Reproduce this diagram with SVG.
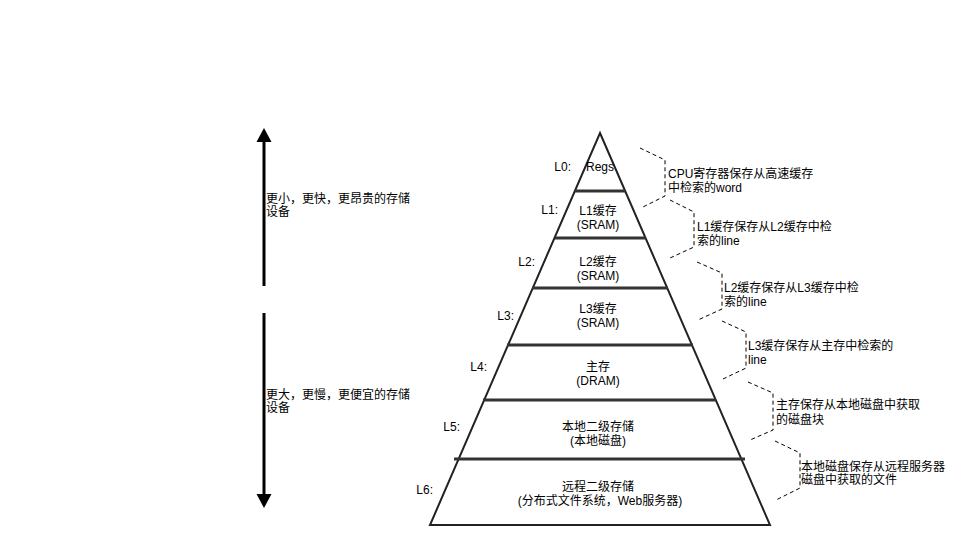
<svg xmlns="http://www.w3.org/2000/svg" width="972" height="545" viewBox="0 0 972 545">
  <style>
    text { font-family: "Liberation Sans", "Noto Sans CJK SC", sans-serif; font-size: 12px; fill: #000; }
    .mid { text-anchor: middle; }
    .end { text-anchor: end; }
    .edge { fill: none; stroke: #222; stroke-width: 2; }
    .tier { stroke: #333; stroke-width: 3; }
    .brace { fill: none; stroke: #000; stroke-width: 1; stroke-dasharray: 4 3; }
    .axis { stroke: #000; stroke-width: 3; }
  </style>
  <defs>
    <marker id="head" viewBox="0 0 10 10" refX="5" refY="2" markerWidth="5" markerHeight="5" orient="auto-start-reverse" markerUnits="strokeWidth">
      <path d="M0,10 L5,0 L10,10 Z" fill="#000"/>
    </marker>
  </defs>
  <rect width="972" height="545" fill="#fff"/>

  <!-- axis arrows -->
  <g id="axis-up">
    <line class="axis" x1="264" y1="286" x2="264" y2="140"/>
    <path d="M256.5,142 L264,128 L271.5,142 Z" fill="#000"/>
    <text x="266" y="203">更小，更快，更昂贵的存储</text>
    <text x="266" y="216">设备</text>
  </g>
  <g id="axis-down">
    <line class="axis" x1="264" y1="313" x2="264" y2="496"/>
    <path d="M256.5,494 L264,508 L271.5,494 Z" fill="#000"/>
    <text x="266" y="399">更大，更慢，更便宜的存储</text>
    <text x="266" y="412">设备</text>
  </g>

  <!-- pyramid outline -->
  <g id="pyramid">
    <path class="edge" d="M600,133 L770,525 L430,525 Z"/>
  </g>

  <!-- tier dividers -->
  <g id="dividers">
    <line class="tier" x1="575" y1="191" x2="625" y2="191"/>
    <line class="tier" x1="555" y1="238" x2="646" y2="238"/>
    <line class="tier" x1="532" y1="288" x2="668" y2="288"/>
    <line class="tier" x1="507" y1="345" x2="693" y2="345"/>
    <line class="tier" x1="483" y1="400" x2="716" y2="400"/>
    <line class="tier" x1="454" y1="459" x2="745" y2="459"/>
  </g>

  <!-- levels -->
  <g id="L0">
    <text class="end" x="571" y="171">L0:</text>
    <text class="mid" x="600" y="171">Regs</text>
  </g>
  <g id="L1">
    <text class="end" x="558" y="214">L1:</text>
    <text class="mid" x="598" y="215">L1缓存</text>
    <text class="mid" x="598" y="229">(SRAM)</text>
  </g>
  <g id="L2">
    <text class="end" x="535" y="266">L2:</text>
    <text class="mid" x="598" y="266">L2缓存</text>
    <text class="mid" x="598" y="280">(SRAM)</text>
  </g>
  <g id="L3">
    <text class="end" x="514" y="320">L3:</text>
    <text class="mid" x="598" y="313">L3缓存</text>
    <text class="mid" x="598" y="327">(SRAM)</text>
  </g>
  <g id="L4">
    <text class="end" x="487" y="371">L4:</text>
    <text class="mid" x="598" y="371">主存</text>
    <text class="mid" x="598" y="385">(DRAM)</text>
  </g>
  <g id="L5">
    <text class="end" x="460" y="431">L5:</text>
    <text class="mid" x="598" y="431">本地二级存储</text>
    <text class="mid" x="598" y="445">(本地磁盘)</text>
  </g>
  <g id="L6">
    <text class="end" x="433" y="494">L6:</text>
    <text class="mid" x="598" y="491">远程二级存储</text>
    <text class="mid" x="600" y="505">(分布式文件系统，Web服务器)</text>
  </g>

  <!-- dashed braces -->
  <g id="connectors">
    <path class="brace" d="M640,148 L665,160 L665,196 L641,208"/>
    <path class="brace" d="M670,200 L694,212 L694,247 L670,258"/>
    <path class="brace" d="M697,262 L722,273 L722,309 L698,320"/>
    <path class="brace" d="M722,321 L746,332 L746,368 L723,379"/>
    <path class="brace" d="M748,382 L773,393 L773,430 L750,440"/>
    <path class="brace" d="M775,441 L800,453 L800,488 L776,500"/>
  </g>

  <!-- annotations -->
  <g id="note-L0">
    <text x="668" y="178">CPU寄存器保存从高速缓存</text>
    <text x="668" y="192">中检索的word</text>
  </g>
  <g id="note-L1">
    <text x="697" y="231">L1缓存保存从L2缓存中检</text>
    <text x="697" y="245">索的line</text>
  </g>
  <g id="note-L2">
    <text x="724" y="292">L2缓存保存从L3缓存中检</text>
    <text x="724" y="306">索的line</text>
  </g>
  <g id="note-L3">
    <text x="748" y="350">L3缓存保存从主存中检索的</text>
    <text x="748" y="364">line</text>
  </g>
  <g id="note-L4">
    <text x="776" y="409">主存保存从本地磁盘中获取</text>
    <text x="776" y="424">的磁盘块</text>
  </g>
  <g id="note-L5">
    <text x="801" y="471">本地磁盘保存从远程服务器</text>
    <text x="801" y="484">磁盘中获取的文件</text>
  </g>
</svg>
